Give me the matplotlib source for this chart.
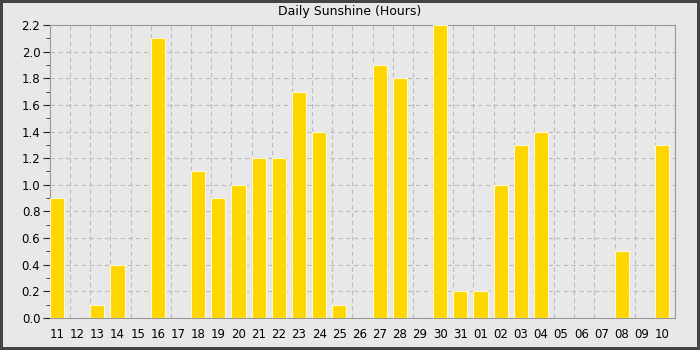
import matplotlib
matplotlib.use('Agg')
import matplotlib.pyplot as plt
from matplotlib.ticker import MultipleLocator
import numpy as np

days = ['11', '12', '13', '14', '15', '16', '17', '18', '19', '20', '21', '22', '23', '24', '25',
        '26', '27', '28', '29', '30', '31', '01', '02', '03', '04', '05', '06', '07', '08', '09', '10']
sunshine = [0.9, 0, 0.1, 0.4, 0, 2.1, 0, 1.1, 0.9, 1.0, 1.2, 1.2, 1.7, 1.4, 0.1,
            0, 1.9, 1.8, 0, 2.2, 0.2, 0.2, 1.0, 1.3, 1.4, 0, 0, 0, 0.5, 0, 1.3]

bg = '#e8e8e8'
fig = plt.figure(figsize=(7, 3.5), dpi=100, facecolor=bg, edgecolor='#444444', linewidth=4)
ax = fig.add_axes([50/700, 32/350, 625/700, 293/350])
ax.set_facecolor(bg)

x = np.arange(len(days))
bw = 0.7
# bars sit at the left of each slot, labels under the bar centre
ax.bar(x, sunshine, width=bw, align='edge', color='#ffd700', edgecolor='#fff8d0', linewidth=0.8, zorder=3)

ax.set_xlim(0, len(days))
ax.set_ylim(0, 2.2)
ax.set_xticks(x + bw / 2)
ax.set_xticklabels(days, fontsize=8.5)
ax.set_xticks(np.arange(0, len(days) + 1), minor=True)
ax.yaxis.set_major_locator(MultipleLocator(0.2))
ax.yaxis.set_minor_locator(MultipleLocator(0.1))
ax.set_yticklabels([f'{v:.1f}' for v in ax.get_yticks()], fontsize=8.5)
ax.tick_params(axis='x', which='both', length=0, pad=7)
ax.tick_params(axis='y', which='major', length=5, color='#222222', pad=2)
ax.tick_params(axis='y', which='minor', length=3, color='#222222')

ax.grid(axis='y', which='major', color='#bbbbbb', linestyle=(0, (4, 3)), linewidth=0.8, zorder=0)
ax.grid(axis='x', which='minor', color='#bbbbbb', linestyle=(0, (4, 3)), linewidth=0.8, zorder=0)

for s in ['left', 'bottom', 'top', 'right']:
    ax.spines[s].set_color('#999999')

fig.text(0.5, 1 - 12/350, 'Daily Sunshine (Hours)', fontsize=9, ha='center', va='center')

fig.savefig('out.png', dpi=100, facecolor=bg, edgecolor='#444444')
